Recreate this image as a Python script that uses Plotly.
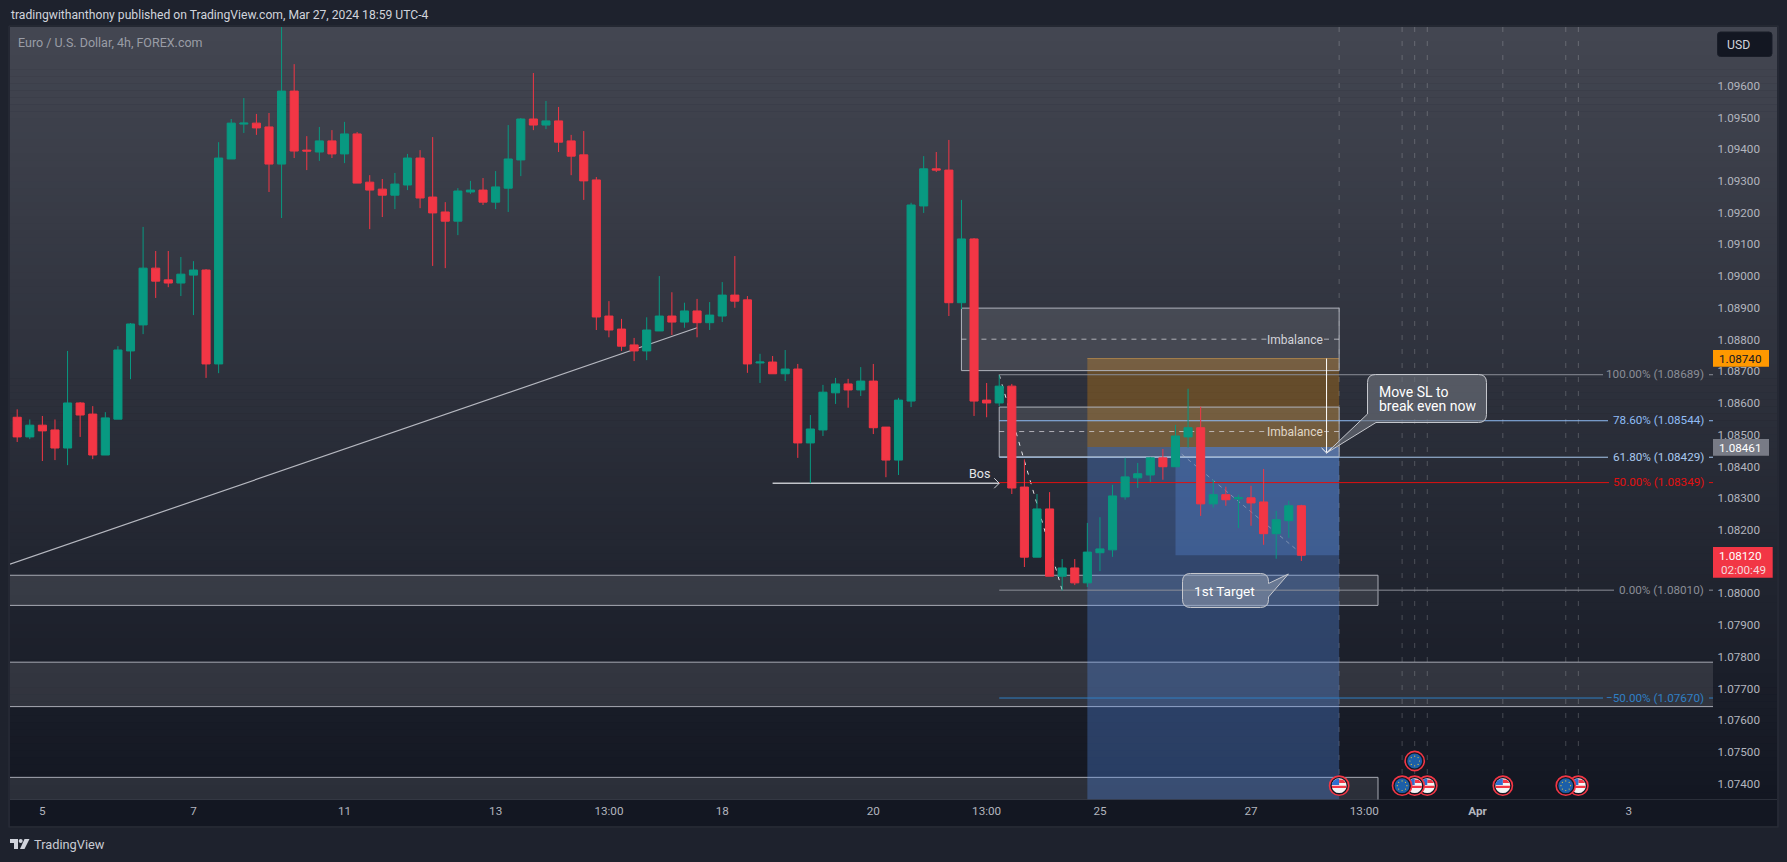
import plotly.graph_objects as go

# ---------------- data ----------------
opens = [1.08555,1.08493,1.08530,1.08515,1.08458,1.08600,1.08565,1.08436,1.08549,1.08764,
1.08846,1.09025,1.08988,1.08978,1.09003,1.09019,1.08723,1.09369,1.09479,1.09482,
1.09470,1.09353,1.09583,1.09397,1.09391,1.09426,1.09385,1.09448,1.09296,1.09274,
1.09255,1.09287,1.09372,1.09249,1.09202,1.09173,1.09265,1.09271,1.09233,1.09277,
1.09366,1.09495,1.09476,1.09489,1.09426,1.09382,1.09303,1.08874,1.08833,1.08783,
1.08764,1.08827,1.08874,1.08855,1.08890,1.08853,1.08874,1.08940,1.08925,1.08726,
1.08729,1.08692,1.08707,1.08474,1.08515,1.08632,1.08660,1.08641,1.08669,1.08524,
1.08420,1.08606,1.09221,1.09338,1.09334,1.08916,1.09117,1.08609,1.08600,1.08653,
1.08335,1.08114,1.08266,1.08054,1.08080,1.08033,1.08128,1.08137,1.08304,1.08364,
1.08373,1.08427,1.08399,1.08493,1.08522,1.08282,1.08311,1.08298,1.08301,1.08288,
1.08188,1.08229,1.08276]
highs = [1.08580,1.08548,1.08559,1.08548,1.08764,1.08603,1.08590,1.08571,1.08779,1.08852,
1.09155,1.09079,1.09079,1.09060,1.09047,1.09022,1.09422,1.09495,1.09561,1.09511,
1.09514,1.09790,1.09668,1.09441,1.09470,1.09460,1.09486,1.09454,1.09318,1.09306,
1.09325,1.09385,1.09397,1.09438,1.09233,1.09277,1.09300,1.09309,1.09331,1.09476,
1.09498,1.09640,1.09552,1.09533,1.09445,1.09457,1.09312,1.08921,1.08865,1.08805,
1.08870,1.09000,1.08949,1.08916,1.08928,1.08918,1.08981,1.09063,1.08937,1.08755,
1.08748,1.08767,1.08723,1.08562,1.08657,1.08679,1.08676,1.08713,1.08723,1.08524,
1.08616,1.09231,1.09378,1.09391,1.09429,1.09240,1.09120,1.08663,1.08688,1.08660,
1.08422,1.08313,1.08319,1.08108,1.08108,1.08222,1.08240,1.08342,1.08427,1.08411,
1.08430,1.08455,1.08531,1.08645,1.08588,1.08358,1.08336,1.08311,1.08339,1.08392,
1.08260,1.08292,1.08279]
lows = [1.08477,1.08486,1.08417,1.08420,1.08404,1.08493,1.08423,1.08436,1.08549,1.08675,
1.08817,1.08931,1.08965,1.08937,1.08877,1.08679,1.08694,1.09369,1.09451,1.09445,
1.09265,1.09183,1.09372,1.09334,1.09363,1.09372,1.09356,1.09293,1.09148,1.09186,
1.09211,1.09271,1.09214,1.09032,1.09025,1.09129,1.09259,1.09224,1.09211,1.09202,
1.09315,1.09460,1.09463,1.09391,1.09318,1.09240,1.08830,1.08807,1.08764,1.08732,
1.08735,1.08827,1.08814,1.08837,1.08807,1.08830,1.08855,1.08900,1.08695,1.08663,
1.08692,1.08669,1.08427,1.08347,1.08496,1.08597,1.08585,1.08622,1.08502,1.08366,
1.08373,1.08587,1.09199,1.09328,1.08874,1.08896,1.08559,1.08555,1.08590,1.08313,
1.08083,1.08114,1.08054,1.08009,1.08026,1.08020,1.08070,1.08115,1.08295,1.08332,
1.08351,1.08358,1.08399,1.08459,1.08244,1.08270,1.08276,1.08206,1.08213,1.08153,
1.08109,1.08175,1.08102]
closes = [1.08493,1.08530,1.08512,1.08458,1.08600,1.08562,1.08436,1.08553,1.08767,1.08849,
1.09025,1.08984,1.08978,1.09006,1.09019,1.08723,1.09372,1.09482,1.09482,1.09467,
1.09353,1.09583,1.09394,1.09394,1.09426,1.09385,1.09448,1.09293,1.09271,1.09255,
1.09290,1.09372,1.09246,1.09199,1.09173,1.09268,1.09271,1.09233,1.09281,1.09369,
1.09495,1.09476,1.09489,1.09422,1.09378,1.09300,1.08871,1.08830,1.08779,1.08764,
1.08830,1.08874,1.08855,1.08890,1.08853,1.08877,1.08940,1.08921,1.08723,1.08729,
1.08692,1.08707,1.08474,1.08518,1.08634,1.08660,1.08641,1.08669,1.08522,1.08420,
1.08609,1.09224,1.09338,1.09334,1.08916,1.09117,1.08606,1.08600,1.08653,1.08332,
1.08114,1.08266,1.08054,1.08080,1.08033,1.08130,1.08140,1.08307,1.08367,1.08377,
1.08427,1.08399,1.08496,1.08522,1.08282,1.08311,1.08295,1.08301,1.08285,1.08188,
1.08232,1.08276,1.08120]
bars = list(range(len(closes)))

price_ticks = [1.096,1.095,1.094,1.093,1.092,1.091,1.090,1.089,1.088,1.087,1.086,1.085,1.084,
               1.083,1.082,1.080,1.079,1.078,1.077,1.076,1.075,1.074]
time_tick_bars = [2,14,26,38,47,56,68,77,86,98,107,116,128]
time_tick_labels = ["5","7","11","13","13:00","18","20","13:00","25","27","13:00","<b>Apr</b>","3"]

fib_levels = [1.08689,1.08544,1.08429,1.08349,1.08010,1.07670]
fib_labels = ["100.00% (1.08689)","78.60% (1.08544)","61.80% (1.08429)","50.00% (1.08349)",
              "0.00% (1.08010)","\u221250.00% (1.07670)"]
fib_colors = ["#8a8d96","#8fbcf5","#a9c8ee","#e01010","#8a8d96","#2f7fc4"]
fib_line_ends = [1603,1608,1608,1609,1614,1603]

event_bars_us = [124,118,112,111,105]
event_bars_eu = [123,110]
event_bars_all = [105,110,111,112,118,123,124]

stop_price, entry_price, last_price = 1.08740, 1.08461, 1.08120

# ---------------- layout geometry ----------------
W, H = 1787, 862
PANE_L, PANE_R, PANE_T, PANE_B, AXIS_X = 10, 1777, 27, 799.5, 1713
BAR0, STEP = 17.2, 12.59
P0, PPX, PY0 = 1.096, 31727.0, 85.7
ifx = lambda px: (px - BAR0) / STEP          # pixel -> bar index
ify = lambda py: P0 - (py - PY0) / PPX       # pixel -> price
X0, X1 = ifx(PANE_L), ifx(PANE_R)
XA = ifx(AXIS_X)
YB, YT = ify(PANE_B), ify(PANE_T)
fx = lambda px: px / W
fy = lambda py: 1 - py / H
bx = lambda i: BAR0 + STEP * i

shapes = []
annots = []

def rect_px(x0, y0, x1, y1, fill, line=None, lw=0, layer="below"):
    shapes.append(dict(type="rect", xref="paper", yref="paper", x0=fx(x0), x1=fx(x1), y0=fy(y0), y1=fy(y1),
                       fillcolor=fill, line=dict(color=line or "rgba(0,0,0,0)", width=lw), layer=layer))

def poly_px(pts, fill, line=None, lw=0, layer="above", close=True):
    d = "M " + " L ".join(f"{fx(x):.6f},{fy(y):.6f}" for x, y in pts) + (" Z" if close else "")
    shapes.append(dict(type="path", xref="paper", yref="paper", path=d, fillcolor=fill,
                       line=dict(color=line or "rgba(0,0,0,0)", width=lw), layer=layer))

def circ_px(cx, cy, r, fill, line=None, lw=0):
    shapes.append(dict(type="circle", xref="paper", yref="paper", x0=fx(cx-r), x1=fx(cx+r), y0=fy(cy+r), y1=fy(cy-r),
                       fillcolor=fill, line=dict(color=line or "rgba(0,0,0,0)", width=lw), layer="above"))

def zone(x0, y0, x1, y1, fill, line=None, lw=1, dash="solid", layer="below"):
    shapes.append(dict(type="rect", xref="x", yref="y", x0=x0, x1=x1, y0=y0, y1=y1, fillcolor=fill,
                       line=dict(color=line or "rgba(0,0,0,0)", width=lw, dash=dash), layer=layer))

def seg(x0, y0, x1, y1, color, lw=1, dash="solid", layer="below"):
    shapes.append(dict(type="line", xref="x", yref="y", x0=x0, x1=x1, y0=y0, y1=y1,
                       line=dict(color=color, width=lw, dash=dash), layer=layer))

def text_px(x, y, s, color, size=11.7, anchor="left", font="Roboto", align="left"):
    annots.append(dict(xref="paper", yref="paper", x=fx(x), y=fy(y), text=s, showarrow=False, xanchor=anchor,
                       yanchor="middle", align=align, borderpad=0, font=dict(family=font, size=size, color=color)))

# pane gradient
N = 110
c0, c1 = (67, 70, 81), (19, 23, 34)
for k in range(N):
    t = k / (N - 1)
    col = "rgb(%d,%d,%d)" % tuple(round(a + (b - a) * t) for a, b in zip(c0, c1))
    y0 = PANE_T + (PANE_B - PANE_T) * k / N
    y1 = PANE_T + (PANE_B - PANE_T) * (k + 1) / N + 0.6
    rect_px(PANE_L, y0, PANE_R, min(y1, PANE_B), col)

# event verticals
for b in event_bars_all:
    seg(b, ify(PANE_T), b, YB + 0.0002, "rgba(255,255,255,0.2)", 1, "5px,9px")

ZF = "rgba(255,255,255,0.105)"
ZL = "#a8abb4"
# wide zones: the left side runs off the pane, so no side border shows there
zone(X0 - 2, 1.07962, ifx(1378), 1.08057, ZF, ZL)
zone(X0 - 2, 1.07643, XA, 1.07783, ZF)
seg(X0, 1.07643, XA, 1.07643, ZL)
seg(X0, 1.07783, XA, 1.07783, ZL)
zone(X0 - 2, YB - 0.001, ifx(1378), 1.07420, ZF, ZL)

# position boxes
zone(85, entry_price, 105, stop_price, "rgba(255,152,0,0.27)")
seg(85, stop_price, 105, stop_price, "rgba(255,170,60,0.45)")
zone(85, YB, 105, entry_price, "rgba(90,150,250,0.30)")
zone(92, last_price, 105, entry_price, "rgba(100,160,255,0.25)")
seg(92, 1.08455, 102, 1.08125, "rgba(200,205,215,0.45)", 1, "4px,4px")

# imbalance boxes
zone(75, 1.08702, 105, 1.08899, ZF, "#b0b3bc")
zone(78, 1.08430, 105, 1.08587, ZF, "#b0b3bc")
seg(75, 1.08801, 99.3, 1.08801, "rgba(220,220,225,0.7)", 1, "5px,5px")
seg(103.8, 1.08801, 105, 1.08801, "rgba(220,220,225,0.7)", 1, "5px,5px")
seg(78, 1.08510, 99.3, 1.08510, "rgba(220,220,225,0.7)", 1, "5px,5px")
seg(103.8, 1.08510, 105, 1.08510, "rgba(220,220,225,0.7)", 1, "5px,5px")
text_px(1295, 339.5, "Imbalance", "#d4d5da", 12, "center")
text_px(1295, 432, "Imbalance", "#e0d8c8", 12, "center")

# trend line, BOS line, zigzag
seg(X0, 1.08092, 54, 1.08837, "#b6b8c0", 1.2)
seg(60, 1.08347, 78, 1.08347, "#c2c4ca", 1.3)
seg(78, 1.08689, 83, 1.08010, "#e8e8ea", 1, "4px,6px")

# fib levels
for lvl, lab, col, end in zip(fib_levels, fib_labels, fib_colors, fib_line_ends):
    seg(78, lvl, ifx(end), lvl, col, 1)
    seg(ifx(1709), lvl, XA, lvl, col, 1)
    py = PY0 + (P0 - lvl) * PPX
    text_px(1705, py - 0.5, lab, col, 11.7, "right")

# BOS chevron and text
byy = PY0 + (P0 - 1.08347) * PPX
poly_px([(bx(78) - 5, byy - 5), (bx(78), byy), (bx(78) - 5, byy + 5)], "rgba(0,0,0,0)", "#d0d2d8", 1, "below", close=False)
text_px(979, 473, "Bos", "#e4e5e8", 12.5, "center")

# vertical arrow into entry
seg(104, stop_price, 104, ify(452.5), "#ffffff", 1, layer="above")

def rounded(x0, y0, x1, y1, r, tail=None):
    p = []
    def q(cx, cy, ex, ey):
        p.append(f"Q {fx(cx):.6f},{fy(cy):.6f} {fx(ex):.6f},{fy(ey):.6f}")
    def l(x, y):
        p.append(f"L {fx(x):.6f},{fy(y):.6f}")
    p.append(f"M {fx(x0+r):.6f},{fy(y0):.6f}")
    l(x1-r, y0); q(x1, y0, x1, y0+r)
    if tail and tail[0] == "right":
        l(x1, tail[2]); l(*tail[1]); l(x1, tail[3])
    l(x1, y1-r); q(x1, y1, x1-r, y1)
    if tail and tail[0] == "bottomleft":
        l(tail[3], y1); l(*tail[1]); l(x0, tail[2])
    else:
        l(x0+r, y1); q(x0, y1, x0, y1-r)
    l(x0, y0+r); q(x0, y0, x0+r, y0)
    return " ".join(p) + " Z"

shapes.append(dict(type="path", xref="paper", yref="paper", layer="above",
    path=rounded(1367.5, 374.5, 1486.5, 422.5, 8, ("bottomleft", (1326.6, 453), 414, 1376)),
    fillcolor="rgba(110,114,124,0.62)", line=dict(color="#c6c8ce", width=1)))
text_px(1377.5, 391.7, "Move SL to", "#ffffff", 14)
text_px(1377.5, 405.7, "break even now", "#ffffff", 14)

shapes.append(dict(type="path", xref="paper", yref="paper", layer="above",
    path=rounded(1182.5, 573.5, 1268.5, 607.5, 8, ("right", (1288.4, 574), 583.5, 597)),
    fillcolor="rgba(160,168,180,0.42)", line=dict(color="#c6c8ce", width=1)))
text_px(1224, 590.5, "1st Target", "#ffffff", 13.6, "center")
poly_px([(1321.6, 448), (1326.6, 453), (1331.6, 448)], "rgba(0,0,0,0)", "#ffffff", 1, close=False)

# x axis band and frame
rect_px(PANE_L, PANE_B, PANE_R, 826, "#131722")
for seg_pts in ([(PANE_L-1, PANE_T-1), (PANE_R+1, PANE_T-1), (PANE_R+1, 827), (PANE_L-1, 827), (PANE_L-1, PANE_T-1)],
                [(PANE_L, PANE_B), (PANE_R, PANE_B)]):
    poly_px(seg_pts, "rgba(0,0,0,0)", "#2a2e39", 1.2, "below", close=False)

# event flags (drawn back to front)
def us(cx, cy):
    circ_px(cx, cy, 9.6, "#131722", "#f23645", 1.6)
    circ_px(cx, cy, 7.4, "#f4f4f4")
    poly_px([(cx, cy-6.3), (cx+4, cy-6), (cx+6.8, cy-2.8), (cx, cy-2.8)], "#f23645")
    poly_px([(cx-7.3, cy), (cx+7.3, cy), (cx+7, cy+2.4), (cx-7, cy+2.4)], "#f23645")
    poly_px([(cx-5.5, cy-5), (cx-2, cy-7), (cx, cy-7), (cx, cy-0.8), (cx-7.2, cy-0.8), (cx-7, cy-2.5)], "#2f6fd0")

def eu(cx, cy):
    circ_px(cx, cy, 9.6, "#131722", "#f23645", 1.6)
    circ_px(cx, cy, 7.4, "#1c5fa8")
    for dx, dy in [(0,-4.8),(3.4,-3.4),(4.8,0),(3.4,3.4),(0,4.8),(-3.4,3.4),(-4.8,0),(-3.4,-3.4)]:
        circ_px(cx+dx, cy+dy, 0.6, "#e8c840")

flag_y = 785.7
for b in event_bars_us:
    us(bx(b), flag_y)
for b in event_bars_eu:
    eu(bx(b), flag_y)
eu(bx(111), 761)

# header, footer, captions
text_px(10, 15, "tradingwithanthony published on TradingView.com, Mar 27, 2024 18:59 UTC-4", "#d1d4dc", 12.15)
text_px(17, 42, "Euro / U.S. Dollar, 4h, FOREX.com", "#9a9da6", 12.5)
text_px(32.5, 844, "TradingView", "#c8cbd3", 12.8)
poly_px([(10,839),(18,839),(18,849),(14,849),(14,843),(10,843)], "#d1d4dc")
circ_px(20.7, 841, 2, "#d1d4dc")
poly_px([(24.5,839),(29.5,839),(24.5,849),(20,849)], "#d1d4dc")

# USD button
shapes.append(dict(type="path", xref="paper", yref="paper", layer="above",
    path=rounded(1717.5, 32, 1772, 56.5, 3), fillcolor="#131722", line=dict(color="#1a1e29", width=1)))
text_px(1726, 44.7, "USD", "#d1d4dc", 12.2)

# price tags
rect_px(AXIS_X, 350, 1769, 366.7, "#ff9800", layer="above")
text_px(1763, 358.5, "1.08740", "#131722", 11.7, "right")
rect_px(AXIS_X, 439, 1769, 455.7, "#787b86", layer="above")
text_px(1763, 447.5, "1.08461", "#ffffff", 11.7, "right")
rect_px(AXIS_X, 547, 1772.7, 577.7, "#f23645", layer="above")
text_px(1763, 555.7, "1.08120", "#ffffff", 11.7, "right")
text_px(1767, 569.7, "02:00:49", "#f4d9dc", 11.7, "right")

# ---------------- figure ----------------
fig = go.Figure(go.Candlestick(
    x=bars, open=opens, high=highs, low=lows, close=closes,
    increasing=dict(line=dict(color="#089981", width=1), fillcolor="#089981"),
    decreasing=dict(line=dict(color="#f23645", width=1), fillcolor="#f23645"),
    whiskerwidth=0, hoverinfo="skip", showlegend=False))

fig.update_layout(
    width=W, height=H, autosize=False,
    margin=dict(l=0, r=0, t=0, b=0, pad=0),
    paper_bgcolor="#1e222d", plot_bgcolor="#131722",
    showlegend=False, shapes=shapes, annotations=annots, boxgap=0.08,
    font=dict(family="Roboto", color="#b2b5be", size=11.7),
    xaxis=dict(domain=[fx(PANE_L), fx(PANE_R)], range=[X0, X1], rangeslider=dict(visible=False),
               showgrid=False, zeroline=False, showline=False, ticks="", tickmode="array",
               tickvals=time_tick_bars, ticktext=time_tick_labels, tickangle=0,
               tickfont=dict(family="Roboto", size=11.7, color="#b2b5be"), ticklabelstandoff=3),
    yaxis=dict(domain=[fy(PANE_B), fy(PANE_T)], range=[YB, YT], side="right",
               showgrid=False, zeroline=False, showline=False, ticks="", tickmode="array",
               tickvals=price_ticks, ticktext=[f"{v:.5f}" for v in price_ticks],
               ticklabelposition="inside", ticklabelstandoff=14,
               tickfont=dict(family="Roboto", size=11.7, color="#b2b5be")),
)
fig.write_html("out.html", config=dict(displayModeBar=False),
               post_script="document.body.style.margin='0';document.documentElement.style.background='#1e222d';")
